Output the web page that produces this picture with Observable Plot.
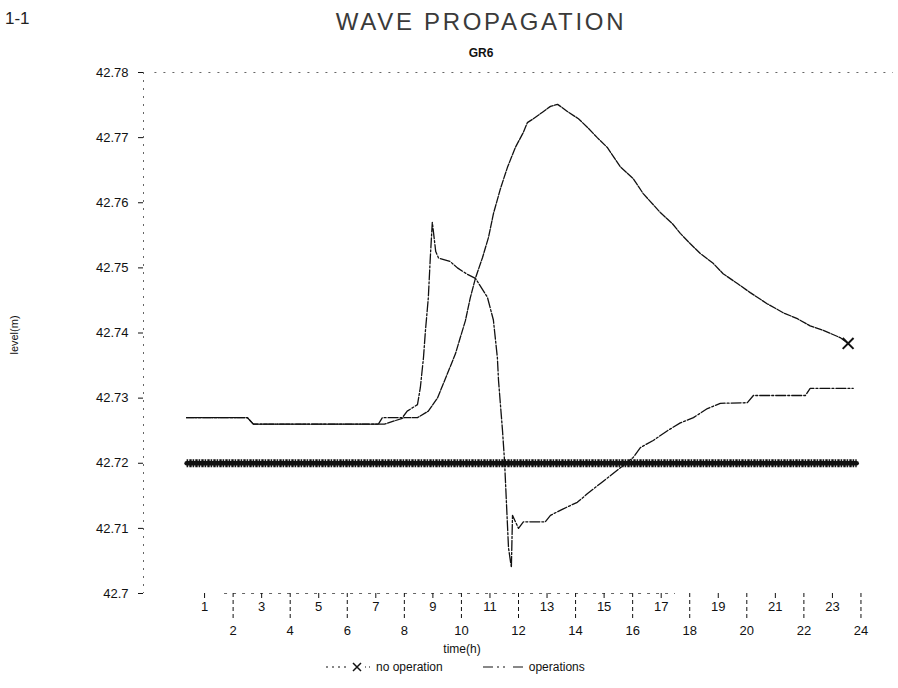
<!DOCTYPE html>
<html><head><meta charset="utf-8">
<script src="https://cdn.jsdelivr.net/npm/d3@7"></script>
<script src="https://cdn.jsdelivr.net/npm/@observablehq/plot@0.6"></script>
<style>
body{margin:0;background:#fff;font-family:"Liberation Sans",Arial,sans-serif;}
#wrap{position:relative;width:898px;height:688px;overflow:hidden;background:#fff;}
#chart{position:absolute;left:0;top:62px;}
.abs{position:absolute;color:#111;white-space:nowrap;z-index:2;}
</style></head><body>
<div id="wrap">
<div id="chart"></div>
<div class="abs" style="left:5px;top:10px;font-size:17px;line-height:17px;color:#222;">1-1</div>
<div class="abs" style="left:231px;width:500px;top:10px;text-align:center;font-size:24px;line-height:24px;letter-spacing:2.7px;color:#3a3a3a;">WAVE PROPAGATION</div>
<div class="abs" style="left:431px;width:100px;top:47px;text-align:center;font-size:12px;line-height:12px;font-weight:bold;">GR6</div>
<div class="abs" style="left:-26px;width:80px;top:329px;text-align:center;font-size:11px;line-height:12px;transform:rotate(-90deg);">level(m)</div>
<div class="abs" style="left:412px;width:100px;top:643px;text-align:center;font-size:12px;line-height:12px;">time(h)</div>
<div class="abs" id="legend" style="left:326px;top:661px;font-size:12px;line-height:12px;display:flex;align-items:center;"></div>
</div>
<script>
// ---- data ----
const levelTicks = [42.70, 42.71, 42.72, 42.73, 42.74, 42.75, 42.76, 42.77, 42.78];
const hourTicks = [1,2,3,4,5,6,7,8,9,10,11,12,13,14,15,16,17,18,19,20,21,22,23,24];

// "no operation" curve (wave passes, peak ~13.4 h)
const noOpTime  = [0.37, 2.5, 2.71, 7.3, 8.0, 8.46, 8.84, 9.16, 9.44, 9.79, 9.96, 10.14, 10.31, 10.49, 10.74, 10.95, 11.12, 11.37, 11.61, 11.89, 12.17, 12.31, 12.52, 12.84, 13.12, 13.37, 13.47, 13.75, 14.1, 14.41, 14.76, 15.11, 15.57, 16.02, 16.37, 16.97, 17.39, 17.67, 18.02, 18.37, 18.82, 19.17, 19.67, 20.12, 20.71, 21.28, 21.77, 22.22, 22.68, 23.27, 23.55];
const noOpLevel = [42.727, 42.727, 42.726, 42.726, 42.727, 42.727, 42.728, 42.730, 42.733, 42.7368, 42.7393, 42.7419, 42.7454, 42.7484, 42.7516, 42.7547, 42.7583, 42.7622, 42.7654, 42.7685, 42.7708, 42.7723, 42.7729, 42.7739, 42.7748, 42.7751, 42.7748, 42.7739, 42.7729, 42.7716, 42.7700, 42.7685, 42.7655, 42.7637, 42.7614, 42.7585, 42.7568, 42.7553, 42.7537, 42.7522, 42.7507, 42.7491, 42.7476, 42.7462, 42.7445, 42.7431, 42.7422, 42.7411, 42.7404, 42.7393, 42.7384];

// "operations" curve
const opsTime  = [0.37, 2.5, 2.71, 7.09, 7.23, 7.93, 8.1, 8.46, 8.56, 8.67, 8.74, 8.84, 8.91, 8.98, 9.1, 9.2, 9.6, 9.86, 10.21, 10.49, 10.91, 11.12, 11.26, 11.3, 11.44, 11.51, 11.65, 11.75, 11.79, 12.0, 12.17, 12.94, 13.12, 13.57, 14.06, 14.41, 14.87, 15.57, 16.02, 16.27, 16.72, 17.22, 17.67, 18.13, 18.62, 19.07, 20.02, 20.23, 22.05, 22.22, 23.73];
const opsLevel = [42.727, 42.727, 42.726, 42.726, 42.727, 42.727, 42.728, 42.729, 42.7316, 42.7362, 42.7404, 42.7454, 42.7516, 42.757, 42.7525, 42.7515, 42.751, 42.750, 42.749, 42.7484, 42.7455, 42.742, 42.7362, 42.7327, 42.725, 42.7204, 42.707, 42.704, 42.712, 42.710, 42.711, 42.711, 42.712, 42.713, 42.714, 42.7153, 42.7169, 42.7193, 42.7209, 42.7224, 42.7235, 42.725, 42.7262, 42.727, 42.7284, 42.7292, 42.7293, 42.7304, 42.7304, 42.7315, 42.7315];

// heavy marker band at the reference level
const refTime  = [0.37, 23.85];
const refLevel = [42.72, 42.72];

const xDomain = [-1.14, 25.14];
const yDomain = [42.70, 42.78];

// ---- tables ----
const toRows = (t, v) => t.map((d, i) => ({time: d, level: v[i]}));
const noOp = toRows(noOpTime, noOpLevel);
const ops = toRows(opsTime, opsLevel);
const ref = toRows(refTime, refLevel);

const fmt = d => String(+d.toFixed(2));
const ink = "#111";

const chart = Plot.plot({
  width: 898,
  height: 581,
  marginLeft: 143,
  marginRight: 5,
  marginTop: 10,
  marginBottom: 50,
  style: {fontFamily: "'Liberation Sans', Arial, sans-serif", fontSize: "13px", color: ink, background: "transparent"},
  x: {domain: xDomain, axis: null},
  y: {domain: yDomain, axis: null},
  marks: [
    Plot.ruleY([yDomain[1]], {stroke: "#666", strokeWidth: 1, strokeDasharray: "2,7", x1: xDomain[0] + 0.4, x2: xDomain[1]}),
    Plot.ruleY([yDomain[0]], {stroke: "#666", strokeWidth: 1, strokeDasharray: "3,6", x1: 1.7, x2: 17.5}),
    Plot.ruleX([xDomain[0]], {stroke: "#666", strokeWidth: 1, strokeDasharray: "2,6"}),
    Plot.axisY({ticks: levelTicks, tickFormat: fmt, tickSize: 5, tickPadding: 10, fontSize: 13, stroke: ink, label: null}),
    Plot.axisX({ticks: hourTicks.filter(d => d % 2 === 1), tickFormat: d => String(d), tickSize: 5, tickPadding: 3, fontSize: 13, stroke: ink, label: null}),
    Plot.axisX({ticks: hourTicks.filter(d => d % 2 === 0), tickFormat: d => String(d), tickSize: 26, tickPadding: 6, fontSize: 13, stroke: ink, strokeDasharray: "4,3", label: null}),
    Plot.line(ref, {x: "time", y: "level", stroke: ink, strokeWidth: 4.5}),
    Plot.line(ref, {x: "time", y: "level", stroke: ink, strokeWidth: 8, strokeLinecap: "butt", strokeDasharray: "1.6,1.1,2.4,0.9"}),
    Plot.line(noOp, {x: "time", y: "level", stroke: ink, strokeWidth: 1.3, strokeDasharray: "7,1.5"}),
    Plot.line(ops, {x: "time", y: "level", stroke: ink, strokeWidth: 1.3, strokeDasharray: "10,2,2,2"}),
    Plot.dot(noOp.slice(-1), {x: "time", y: "level", symbol: "times", r: 5, stroke: ink, strokeWidth: 2})
  ]
});
document.getElementById("chart").appendChild(chart);

// legend
const legend = document.getElementById("legend");
legend.innerHTML =
  '<svg width="46" height="12"><line x1="0" y1="6" x2="22" y2="6" stroke="#111" stroke-width="1.2" stroke-dasharray="2,4"/>' +
  '<path d="M27,2 L35,10 M35,2 L27,10" stroke="#111" stroke-width="1.5"/><line x1="39" y1="6" x2="44" y2="6" stroke="#111" stroke-dasharray="1,3"/></svg>' +
  '<span style="margin-left:4px">no operation</span>' +
  '<svg width="44" height="12" style="margin-left:40px"><line x1="0" y1="6" x2="40" y2="6" stroke="#111" stroke-width="1.2" stroke-dasharray="10,4,2,4,2,8"/></svg>' +
  '<span style="margin-left:2px">operations</span>';
</script>
</body></html>
